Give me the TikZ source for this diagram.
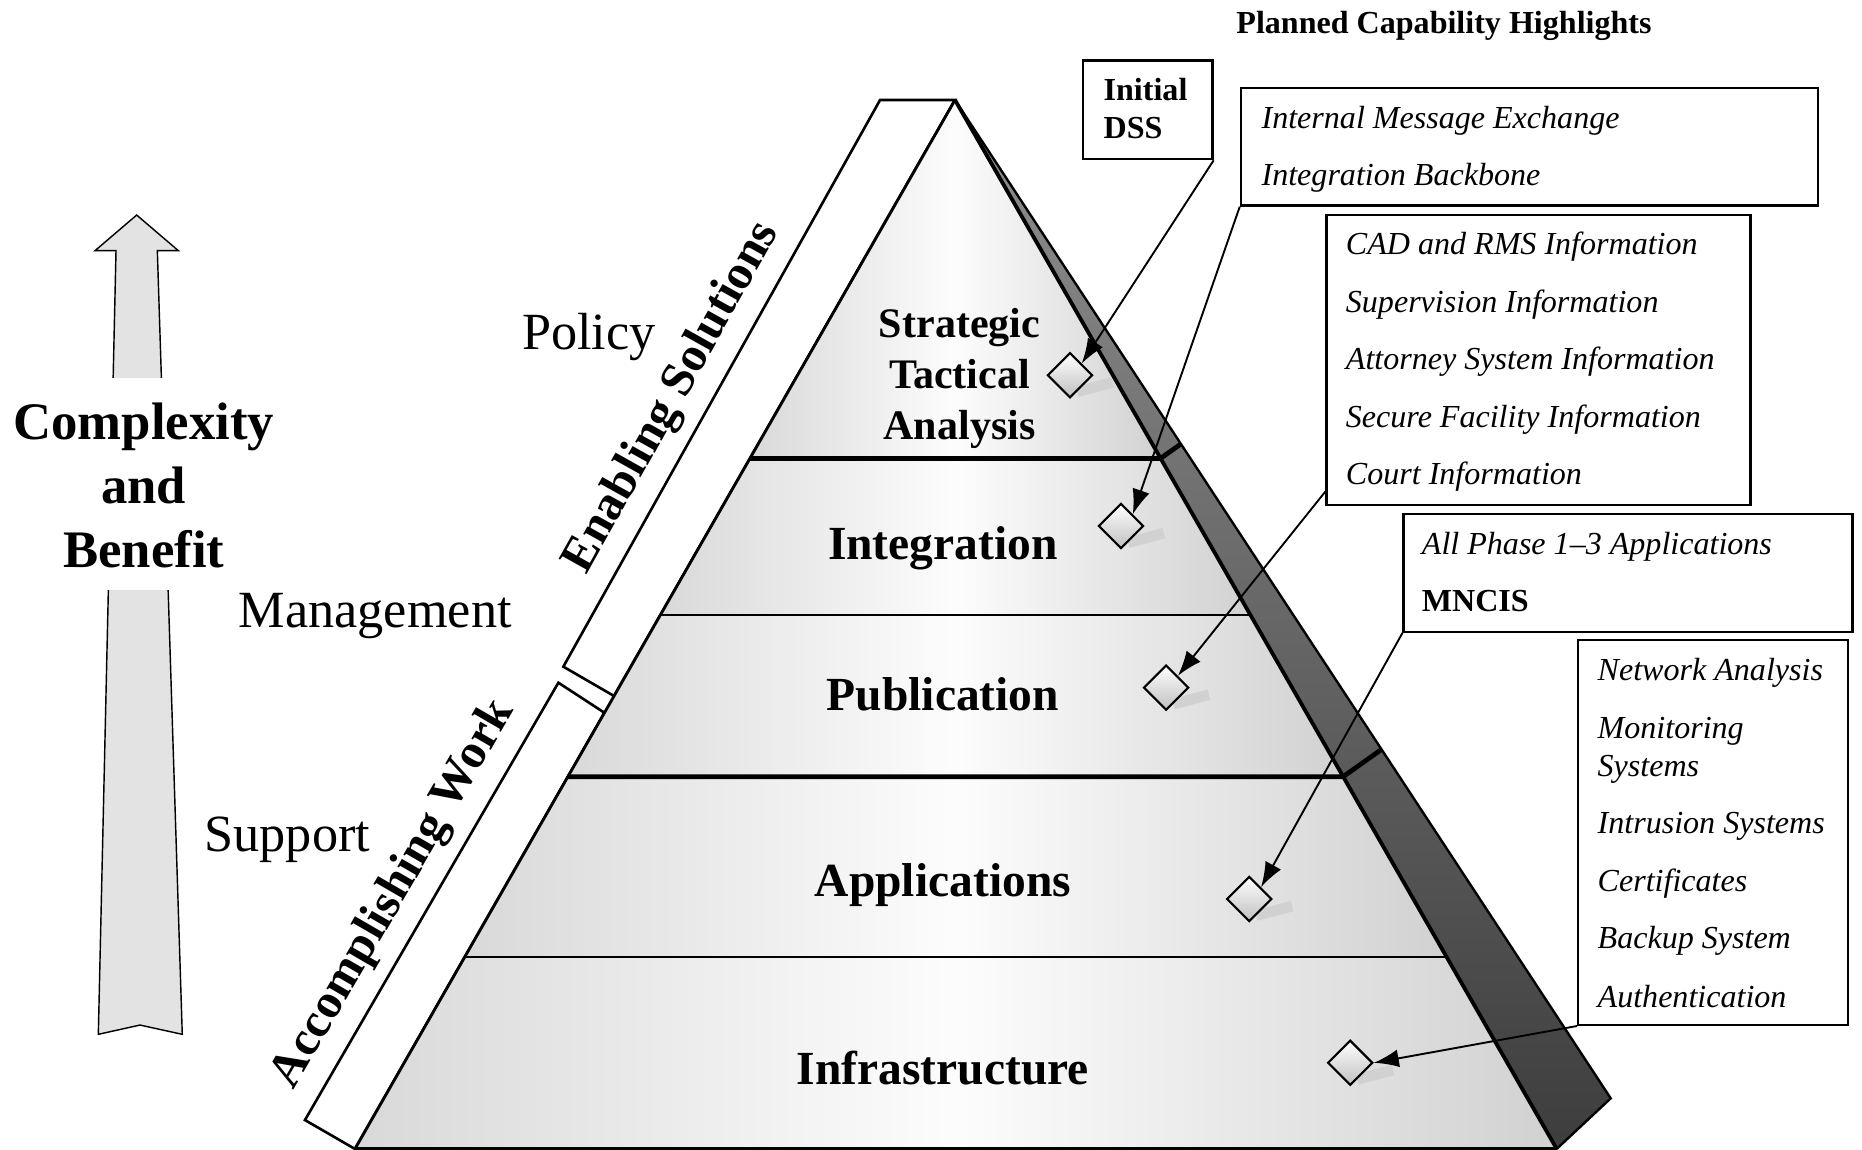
\documentclass[tikz,border=0pt]{standalone}
\usepackage{fontspec}
\setmainfont{Liberation Serif}
\usetikzlibrary{shapes.geometric,arrows.meta,calc}

\begin{document}
\begin{tikzpicture}[x=0.5pt,y=-0.5pt,
  frame/.style={draw, line width=1pt, fill=white, inner sep=0pt, anchor=north west},
  itemtxt/.style={anchor=base west, inner sep=0pt, font=\fontsize{13.5}{16}\selectfont\itshape},
  itembold/.style={anchor=base west, inner sep=0pt, font=\fontsize{13.5}{16}\selectfont\bfseries},
  tiername/.style={anchor=base, inner sep=0pt, font=\fontsize{20}{24}\selectfont\bfseries},
  toptier/.style={anchor=base, inner sep=0pt, font=\fontsize{17.7}{21}\selectfont\bfseries},
  rolename/.style={anchor=base, inner sep=0pt, font=\fontsize{22}{26}\selectfont},
  axisname/.style={anchor=base, inner sep=0pt, font=\fontsize{22.2}{26}\selectfont\bfseries},
  bandname/.style={inner sep=0pt, font=\fontsize{20.5}{24}\selectfont\bfseries},
  tierfill/.style={left color=black!15, right color=black!18, middle color=black!1},
  feature/.style={diamond, aspect=1, draw, line width=0.9pt, minimum width=19pt,
                  minimum height=19pt, inner sep=0pt, top color=white, bottom color=black!25},
  featshadow/.style={draw=black!18, line width=4.5pt},
  callout/.style={draw, line width=0.8pt, -{Latex[length=10.5pt,width=7.5pt]}},
  thickrule/.style={line width=2pt},
  thinrule/.style={line width=1pt}]

\useasboundingbox (0,0) rectangle (1568,968);

% ---------- rising arrow on the left ----------
\filldraw[fill=black!11, draw=black, line width=0.6pt]
  (115.1,181.1) -- (150.2,211.1) -- (132.5,211.1) -- (153.5,871) -- (117.9,863.2)
  -- (82.8,871) -- (97.7,211.1) -- (80,211.1) -- cycle;
\fill[white] (60,318) rectangle (180,497);
\node[axisname] (cx1) at (121,370) {Complexity};
\node[axisname] (cx2) at (121,424) {and};
\node[axisname] (cx3) at (121,478) {Benefit};

% ---------- role labels ----------
\node[rolename] (policy) at (496,294) {Policy};
\node[rolename] (mgmt) at (316,528) {Management};
\node[rolename] (supp) at (242,717) {Support};

% ---------- side bands along the left face ----------
\draw[line width=1.1pt, fill=white]
  (741.1,84.2) -- (804.2,84.2) -- (517.1,586.1) -- (474.4,561.4) -- cycle;
\draw[line width=1.1pt, fill=white]
  (470.2,574.9) -- (509.0,600.2) -- (298.9,967.5) -- (256.8,943.2) -- cycle;
\node[bandname, rotate=60.8] (enab) at (566.5,335) {Enabling Solutions};
\node[bandname, rotate=59.9] (accw) at (332,753) {Accomplishing Work};

% ---------- dark side face ----------
\fill[top color=black!44, bottom color=black!76]
  (804.2,84.2) -- (1356.4,924.9) -- (1310.9,967.5) -- cycle;
\draw[line width=1pt] (804.2,84.2) -- (1356.4,924.9) -- (1310.9,967.5);

% ---------- pyramid tiers ----------
\fill[tierfill] (804.2,84.2) -- (977.3,386) -- (631.5,386) -- cycle;
\fill[tierfill] (631.5,386) -- (977.3,386) -- (1053.1,518) -- (556.0,518) -- cycle;
\fill[tierfill] (556.0,518) -- (1053.1,518) -- (1131.1,654) -- (478.2,654) -- cycle;
\fill[tierfill] (478.2,654) -- (1131.1,654) -- (1218.3,806) -- (391.3,806) -- cycle;
\fill[tierfill] (391.3,806) -- (1218.3,806) -- (1310.9,967.5) -- (298.9,967.5) -- cycle;

\draw[line width=1.2pt] (298.9,967.5) -- (804.2,84.2);
\draw[line width=1.6pt] (804.2,84.2) -- (1310.9,967.5);
\draw[line width=1.2pt] (298.9,967.5) -- (1310.9,967.5);

\draw[thickrule] (631.5,386) -- (977.3,386) -- (994.5,373.8);
\draw[thinrule] (556.0,518) -- (1053.1,518);
\draw[thickrule] (478.2,654) -- (1131.1,654) -- (1163.5,631);
\draw[thinrule] (391.3,806) -- (1218.3,806);

\node[toptier] (st1) at (808,284) {Strategic};
\node[toptier] (st2) at (808,327) {Tactical};
\node[toptier] (st3) at (808,370) {Analysis};
\node[tiername] (integ) at (794,471) {Integration};
\node[tiername] (publ) at (794,598) {Publication};
\node[tiername] (appl) at (794,755) {Applications};
\node[tiername] (infra) at (794,913) {Infrastructure};

% ---------- capability markers ----------
\coordinate (c1) at (901,316);
\coordinate (c2) at (944,443);
\coordinate (c3) at (982,579);
\coordinate (c4) at (1052,757);
\coordinate (c5) at (1137,895);
\foreach \c in {c1,c2,c3,c4,c5}
  \draw[featshadow] ($(\c)+(6,14)$) -- ($(\c)+(36,6)$);
\node[feature] (d1) at (c1) {};
\node[feature] (d2) at (c2) {};
\node[feature] (d3) at (c3) {};
\node[feature] (d4) at (c4) {};
\node[feature] (d5) at (c5) {};

% ---------- capability boxes ----------
\node[anchor=base, inner sep=0pt, font=\fontsize{13.5}{16}\selectfont\bfseries] (title)
  at (1216,28) {Planned Capability Highlights};

\node[frame, minimum width=54.5pt, minimum height=41.5pt] (dss) at (911,50) {};
\node[itembold] (dssa) at (929,85) {Initial};
\node[itembold] (dssb) at (929,117) {DSS};

\node[frame, minimum width=243pt, minimum height=49.5pt] (b2) at (1044,73) {};
\node[itemtxt] (b2a) at (1062,108) {Internal Message Exchange};
\node[itemtxt] (b2b) at (1062,156) {Integration Backbone};

\node[frame, minimum width=178.5pt, minimum height=122pt] (b3) at (1116,180) {};
\node[itemtxt] (b3a) at (1133,214) {CAD and RMS Information};
\node[itemtxt] (b3b) at (1133,263) {Supervision Information};
\node[itemtxt] (b3c) at (1133,311) {Attorney System Information};
\node[itemtxt] (b3d) at (1133,360) {Secure Facility Information};
\node[itemtxt] (b3e) at (1133,408) {Court Information};

\node[frame, minimum width=189pt, minimum height=49.5pt] (b4) at (1181,432) {};
\node[itemtxt] (b4a) at (1197,467) {All Phase 1--3 Applications};
\node[itembold] (b4b) at (1197,515) {MNCIS};

\node[frame, minimum width=113.5pt, minimum height=162pt] (b5) at (1328,538) {};
\node[itemtxt] (b5a) at (1345,573) {Network Analysis};
\node[itemtxt] (b5b) at (1345,622) {Monitoring};
\node[itemtxt] (b5c) at (1345,654) {Systems};
\node[itemtxt] (b5d) at (1345,702) {Intrusion Systems};
\node[itemtxt] (b5e) at (1345,751) {Certificates};
\node[itemtxt] (b5f) at (1345,799) {Backup System};
\node[itemtxt] (b5g) at (1345,848) {Authentication};

% ---------- callouts ----------
\draw[callout] (dss.south east) -- (d1.north east);
\draw[callout] (b2.south west) -- (d2.north east);
\draw[callout] ([yshift=6pt]b3.south west) -- (d3.north east);
\draw[callout] (b4.south west) -- (d4.north east);
\draw[callout] (b5.south west) -- (d5.east);

\end{tikzpicture}
\end{document}
